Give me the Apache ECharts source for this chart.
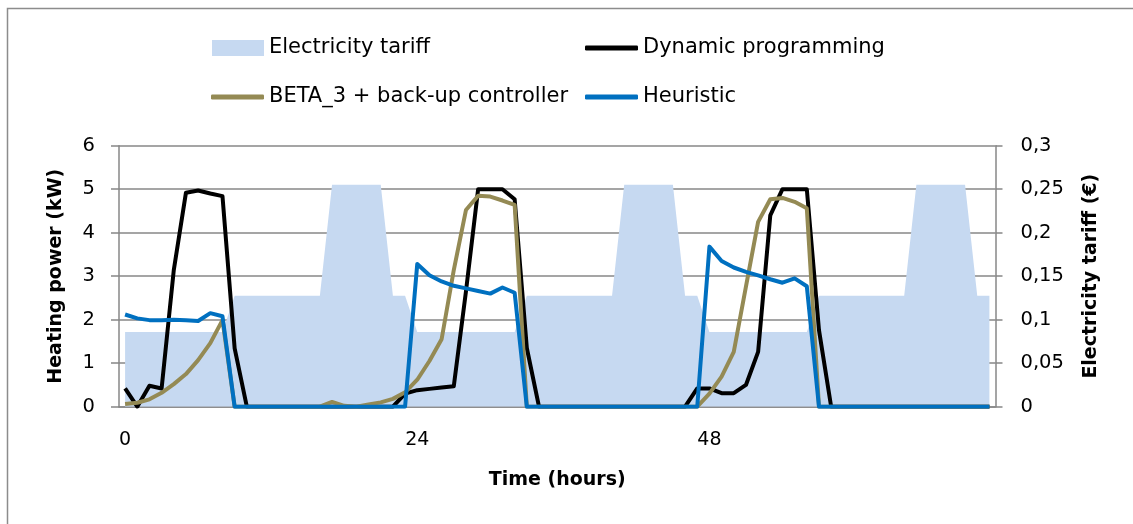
<!DOCTYPE html>
<html>
<head>
<meta charset="utf-8">
<script src="https://cdn.jsdelivr.net/npm/echarts@6/dist/echarts.min.js"></script>
<style>
html,body{margin:0;padding:0;background:#fff;}
#chart{width:1133px;height:524px;}
</style>
</head>
<body>
<div id="chart"></div>
<script>
// Hours 0..71
const hours = Array.from({length: 72}, (_, i) => String(i));

// Electricity tariff (€), right axis
const tariff = [
  0.086,0.086,0.086,0.086,0.086,0.086,0.086,0.086,0.086,
  0.1275,0.1275,0.1275,0.1275,0.1275,0.1275,0.1275,0.1275,
  0.255,0.255,0.255,0.255,0.255,
  0.1275,0.1275,
  0.086,0.086,0.086,0.086,0.086,0.086,0.086,0.086,0.086,
  0.1275,0.1275,0.1275,0.1275,0.1275,0.1275,0.1275,0.1275,
  0.255,0.255,0.255,0.255,0.255,
  0.1275,0.1275,
  0.086,0.086,0.086,0.086,0.086,0.086,0.086,0.086,0.086,
  0.1275,0.1275,0.1275,0.1275,0.1275,0.1275,0.1275,0.1275,
  0.255,0.255,0.255,0.255,0.255,
  0.1275,0.1275
];

// Dynamic programming (kW)
const dynamicProgramming = [
  0.42,0.0,0.48,0.42,3.14,4.92,4.97,4.9,4.84,1.34,0,
  0,0,0,0,0,0,0,0,0,0,0,0,
  0.3,0.38,0.41,0.44,0.47,2.65,5.0,5.0,5.0,4.77,1.35,0,
  0,0,0,0,0,0,0,0,0,0,0,0,
  0.42,0.42,0.31,0.31,0.5,1.26,4.4,5.0,5.0,5.0,1.76,0,
  0,0,0,0,0,0,0,0,0,0,0,0,0
];

// BETA_3 + back-up controller (kW)
const beta3 = [
  0.06,0.09,0.17,0.32,0.52,0.75,1.07,1.46,1.99,
  0,0,0,0,0,0,0,0,
  0.11,0.02,0,0.05,0.1,0.18,0.33,0.62,1.05,1.55,3.14,4.52,4.85,4.83,4.74,4.64,0,
  0,0,0,0,0,0,0,0,0,0,0,0,0,
  0,0.3,0.69,1.26,2.76,4.25,4.77,4.8,4.71,4.56,0,
  0,0,0,0,0,0,0,0,0,0,0,0,0,0
];

// Heuristic (kW)
const heuristic = [
  2.12,2.03,1.99,1.99,2.0,1.99,1.97,2.15,2.08,
  0,0,0,0,0,0,0,0,0,0,0,0,0,0,0,
  3.28,3.02,2.88,2.78,2.72,2.66,2.6,2.74,2.62,
  0,0,0,0,0,0,0,0,0,0,0,0,0,0,0,
  3.68,3.35,3.2,3.1,3.02,2.93,2.85,2.95,2.77,
  0,0,0,0,0,0,0,0,0,0,0,0,0,0,0
];

const leftTicks = {min: 0, max: 6, interval: 1};
const rightTicks = {min: 0, max: 0.3, interval: 0.05};

const FONT = "'DejaVu Sans', sans-serif";
const GRAY = '#878787';
const C_TARIFF = '#C6D9F1';
const C_DP = '#000000';
const C_BETA = '#948A54';
const C_HEUR = '#0070C0';

const chart = echarts.init(document.getElementById('chart'), null, {renderer: 'canvas'});

const legendText = {fontFamily: FONT, fontSize: 21, color: '#000'};
function mkLegend(name, left, cy, w, h, icon) {
  return {
    data: [name], left: left, top: cy - 12, itemWidth: w, itemHeight: h, icon: icon,
    itemGap: 0, padding: 0, textStyle: Object.assign({}, legendText, {lineHeight: 24}),
    selectedMode: false
  };
}

chart.setOption({
  animation: false,
  backgroundColor: '#fff',
  graphic: [{
    type: 'rect', shape: {x: 7.5, y: 8.5, width: 1140, height: 540},
    style: {fill: 'none', stroke: '#8c8c8c', lineWidth: 1.5}, silent: true
  }],
  legend: [
    mkLegend('Electricity tariff', 212, 48, 52, 16, 'rect'),
    mkLegend('Dynamic programming', 585, 48, 53, 5, 'roundRect'),
    mkLegend('BETA_3 + back-up controller', 211, 97, 53, 5, 'roundRect'),
    mkLegend('Heuristic', 585, 97, 53, 5, 'roundRect')
  ],
  grid: {left: 119, right: 137.5, top: 145.7, bottom: 117.3, containLabel: false},
  xAxis: {
    type: 'category', data: hours, boundaryGap: true,
    name: 'Time (hours)', nameLocation: 'middle', nameGap: 64,
    nameTextStyle: {fontFamily: FONT, fontSize: 19, fontWeight: 'bold', color: '#000', verticalAlign: 'top'},
    axisLine: {lineStyle: {color: GRAY, width: 1.5}},
    axisTick: {interval: 23, length: 8, lineStyle: {color: GRAY, width: 1.5}},
    axisLabel: {interval: 23, margin: 24, fontFamily: FONT, fontSize: 19, color: '#000'},
    splitLine: {show: false}
  },
  yAxis: [{
    type: 'value', min: leftTicks.min, max: leftTicks.max, interval: leftTicks.interval, position: 'left',
    name: 'Heating power (kW)', nameLocation: 'middle', nameGap: 53, nameRotate: 90,
    nameTextStyle: {fontFamily: FONT, fontSize: 19, fontWeight: 'bold', color: '#000'},
    axisLine: {show: true, lineStyle: {color: GRAY, width: 1.5}},
    axisTick: {show: true, length: 8, lineStyle: {color: GRAY, width: 1.5}},
    axisLabel: {margin: 24, fontFamily: FONT, fontSize: 19.5, color: '#000'},
    splitLine: {show: true, lineStyle: {color: GRAY, width: 1.5}}
  }, {
    type: 'value', min: rightTicks.min, max: rightTicks.max, interval: rightTicks.interval, position: 'right',
    name: 'Electricity tariff (€)', nameLocation: 'middle', nameGap: 86, nameRotate: 90,
    nameTextStyle: {fontFamily: FONT, fontSize: 19, fontWeight: 'bold', color: '#000'},
    axisLine: {show: true, lineStyle: {color: GRAY, width: 1.5}},
    axisTick: {show: true, length: 7, lineStyle: {color: GRAY, width: 1.5}},
    axisLabel: {margin: 25, fontFamily: FONT, fontSize: 19.5, color: '#000',
      formatter: v => String(+v.toFixed(2)).replace('.', ',')},
    splitLine: {show: false}
  }],
  series: [{
    name: 'Electricity tariff', type: 'line', yAxisIndex: 1, data: tariff,
    symbol: 'none', lineStyle: {width: 0, color: C_TARIFF}, itemStyle: {color: C_TARIFF},
    areaStyle: {color: C_TARIFF, opacity: 1}, z: 1
  }, {
    name: 'Dynamic programming', type: 'line', yAxisIndex: 0, data: dynamicProgramming,
    symbol: 'none', lineStyle: {width: 4, color: C_DP, join: 'round'}, itemStyle: {color: C_DP}, z: 3
  }, {
    name: 'BETA_3 + back-up controller', type: 'line', yAxisIndex: 0, data: beta3,
    symbol: 'none', lineStyle: {width: 4, color: C_BETA, join: 'round'}, itemStyle: {color: C_BETA}, z: 4
  }, {
    name: 'Heuristic', type: 'line', yAxisIndex: 0, data: heuristic,
    symbol: 'none', lineStyle: {width: 4, color: C_HEUR, join: 'round'}, itemStyle: {color: C_HEUR}, z: 5
  }]
});
</script>
</body>
</html>
